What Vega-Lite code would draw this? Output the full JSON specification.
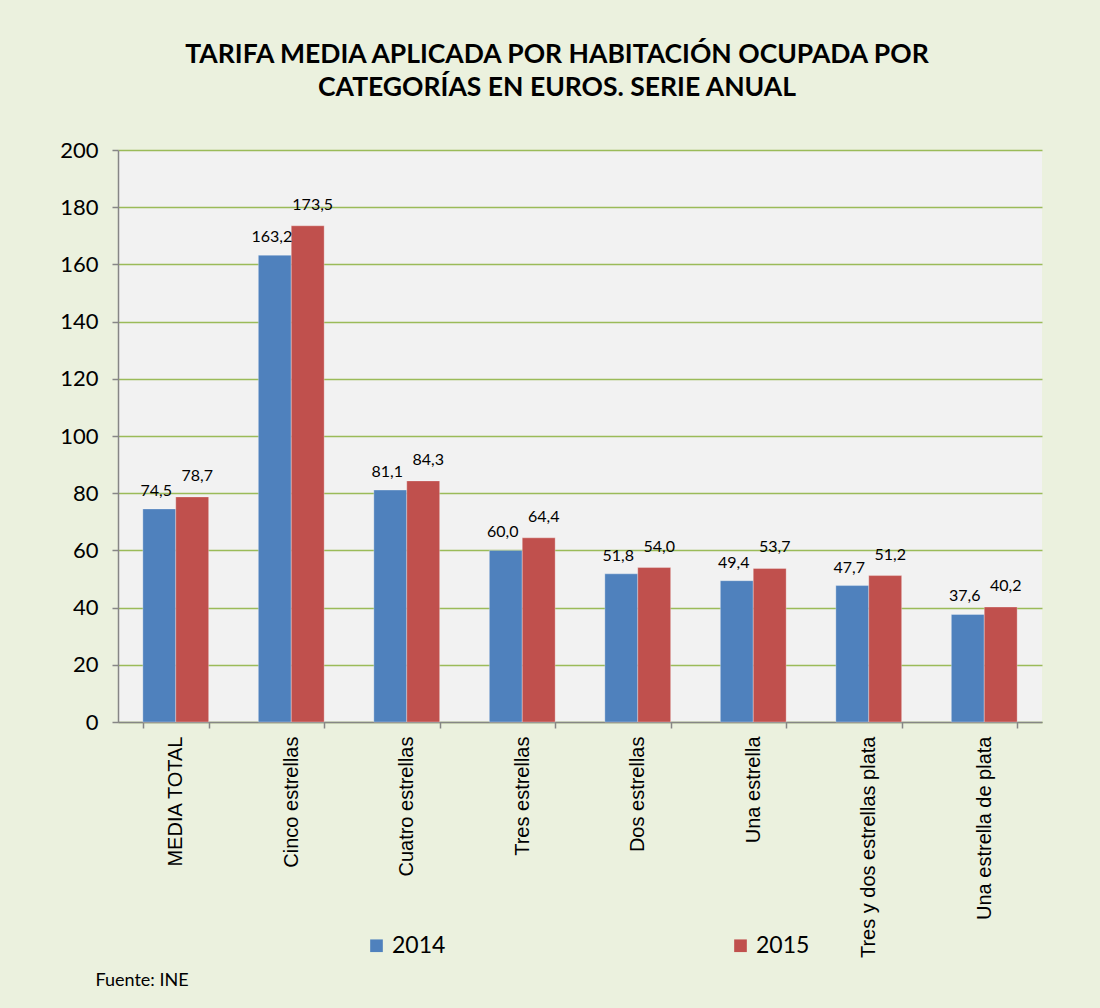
{
  "$schema": "https://vega.github.io/schema/vega-lite/v6.json",
  "width": 924,
  "height": 572,
  "autosize": {"type": "none"},
  "padding": {"left": 118, "top": 150, "right": 58, "bottom": 286},
  "background": "#EBF1DE",
  "config": {
    "locale": {"number": {"decimal": ",", "thousands": ".", "grouping": [3], "currency": ["", " €"]}},
    "view": {"fill": "#F2F2F2", "stroke": null},
    "font": "Lato"
  },
  "title": {
    "text": ["TARIFA MEDIA APLICADA POR HABITACIÓN OCUPADA POR", "CATEGORÍAS EN EUROS. SERIE ANUAL"],
    "font": "Lato",
    "fontSize": 26.5,
    "fontWeight": "bold",
    "color": "#000000",
    "anchor": "middle",
    "dx": -23,
    "lineHeight": 33,
    "offset": 38
  },
  "data": {
    "values": [
      {"categoria": "MEDIA TOTAL", "anio": "2014", "tarifa": 74.5},
      {"categoria": "MEDIA TOTAL", "anio": "2015", "tarifa": 78.7},
      {"categoria": "Cinco estrellas", "anio": "2014", "tarifa": 163.2},
      {"categoria": "Cinco estrellas", "anio": "2015", "tarifa": 173.5},
      {"categoria": "Cuatro estrellas", "anio": "2014", "tarifa": 81.1},
      {"categoria": "Cuatro estrellas", "anio": "2015", "tarifa": 84.3},
      {"categoria": "Tres estrellas", "anio": "2014", "tarifa": 60.0},
      {"categoria": "Tres estrellas", "anio": "2015", "tarifa": 64.4},
      {"categoria": "Dos estrellas", "anio": "2014", "tarifa": 51.8},
      {"categoria": "Dos estrellas", "anio": "2015", "tarifa": 54.0},
      {"categoria": "Una estrella", "anio": "2014", "tarifa": 49.4},
      {"categoria": "Una estrella", "anio": "2015", "tarifa": 53.7},
      {"categoria": "Tres y dos estrellas plata", "anio": "2014", "tarifa": 47.7},
      {"categoria": "Tres y dos estrellas plata", "anio": "2015", "tarifa": 51.2},
      {"categoria": "Una estrella de plata", "anio": "2014", "tarifa": 37.6},
      {"categoria": "Una estrella de plata", "anio": "2015", "tarifa": 40.2}
    ]
  },
  "encoding": {
    "x": {
      "field": "categoria",
      "type": "nominal",
      "sort": null,
      "scale": {"paddingInner": 0.43, "paddingOuter": 0.215},
      "title": "Fuente: INE",
      "axis": {
        "labelAngle": -90,
        "labelAlign": "right",
        "labelBaseline": "middle",
        "labelFont": "Liberation Sans",
        "labelFontSize": 20,
        "labelColor": "#000000",
        "labelPadding": 8,
        "labelLimit": 300,
        "tickBand": "extent",
        "tickSize": 6,
        "tickColor": "#868686",
        "domainColor": "#868686",
        "domainWidth": 1.5,
        "tickWidth": 1.5,
        "titleFont": "Lato",
        "titleFontSize": 18,
        "titleFontWeight": "normal",
        "titleColor": "#000000",
        "titleAnchor": "start",
        "titleAlign": "left",
        "titleBaseline": "middle",
        "titleX": -23,
        "titleY": 258
      }
    },
    "xOffset": {"field": "anio", "type": "nominal"},
    "y": {
      "field": "tarifa",
      "type": "quantitative",
      "scale": {"domain": [0, 200], "nice": false},
      "title": null,
      "axis": {
        "values": [0, 20, 40, 60, 80, 100, 120, 140, 160, 180, 200],
        "labelFont": "Lato",
        "labelFontSize": 22,
        "labelColor": "#000000",
        "labelPadding": 14,
        "tickSize": 6,
        "tickColor": "#868686",
        "tickWidth": 1.5,
        "domainColor": "#868686",
        "domainWidth": 1.5,
        "gridColor": "#9BBB59",
        "gridWidth": 1.5
      }
    }
  },
  "layer": [
    {
      "mark": {"type": "bar", "stroke": "#FFFFFF", "strokeWidth": 0.5, "strokeOpacity": 0.6},
      "encoding": {
        "color": {
          "field": "anio",
          "type": "nominal",
          "scale": {"domain": ["2014", "2015"], "range": ["#4F81BD", "#C0504D"]},
          "legend": {
            "title": null,
            "orient": "none",
            "direction": "horizontal",
            "legendX": 247,
            "legendY": 784,
            "symbolType": "square",
            "symbolSize": 160,
            "symbolStrokeWidth": 0,
            "labelFont": "Lato",
            "labelFontSize": 23,
            "labelColor": "#000000",
            "labelOffset": 4,
            "columnPadding": 283
          }
        }
      }
    },
    {
      "transform": [{"filter": "datum.anio === '2014'"}],
      "mark": {"type": "text", "baseline": "bottom", "dy": -10, "dx": -3, "fontSize": 16, "font": "Lato", "color": "#000000"},
      "encoding": {
        "text": {"field": "tarifa", "type": "quantitative", "format": ".1f"}
      }
    },
    {
      "transform": [{"filter": "datum.anio === '2015'"}],
      "mark": {"type": "text", "baseline": "bottom", "dy": -13, "dx": 5, "fontSize": 16, "font": "Lato", "color": "#000000"},
      "encoding": {
        "text": {"field": "tarifa", "type": "quantitative", "format": ".1f"}
      }
    }
  ]
}
